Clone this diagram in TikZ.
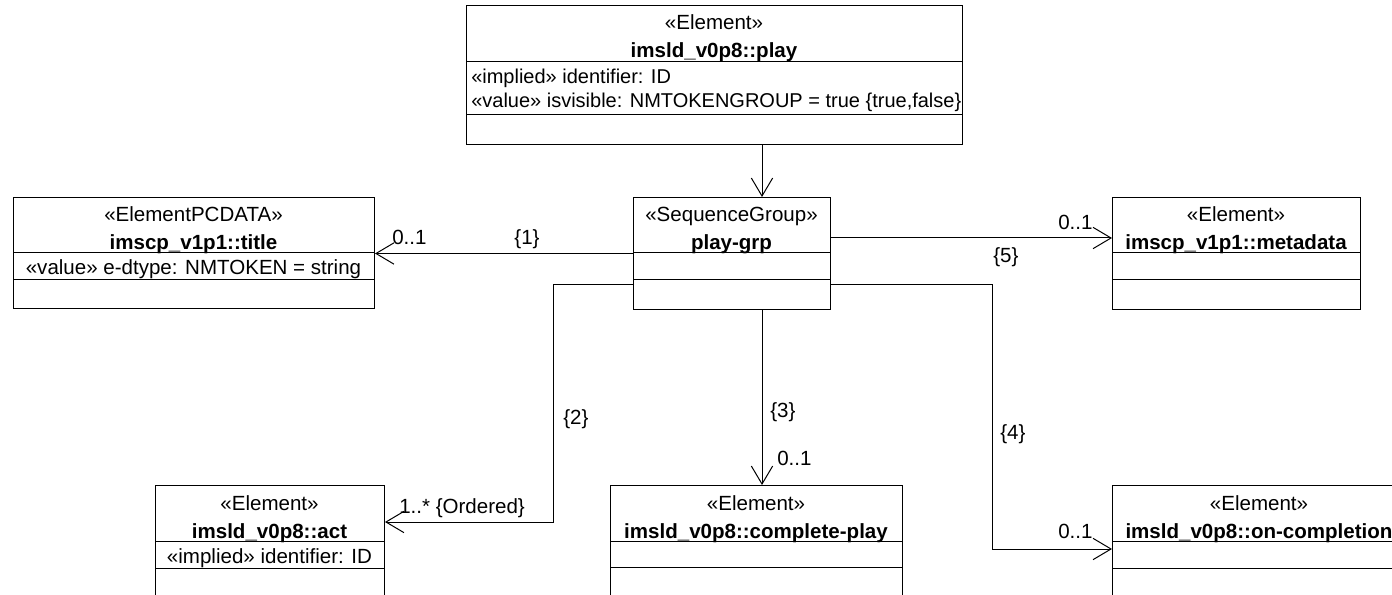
\documentclass[tikz,border=0pt]{standalone}
\usepackage{fontspec}
\setmainfont{Liberation Sans}
\usetikzlibrary{arrows.meta}
\begin{document}
\begin{tikzpicture}[x=0.75pt,y=-0.75pt,
  box/.style={draw=black, line width=0.75pt, rectangle, inner sep=0pt, anchor=north west},
  sep/.style={draw=black, line width=0.75pt},
  txt/.style={inner sep=0pt, anchor=base, font=\fontsize{15.4pt}{18pt}\selectfont},
  btxt/.style={txt, font=\fontsize{15.4pt}{18pt}\selectfont\bfseries},
  ltxt/.style={txt, anchor=base west},
  ptxt/.style={ltxt, font=\fontsize{15pt}{18pt}\selectfont},
  conn/.style={draw=black, line width=0.75pt, -{Straight Barb[length=13.5pt,width=16pt,line width=0.75pt]}},
]
\useasboundingbox (0,0) rectangle (1392,595);
\clip (0,0) rectangle (1392,595);
\fill[white] (0,0) rectangle (1392,595);

% ---------- boxes ----------
\node[box, minimum width=372pt,    minimum height=104.25pt] (play)  at (466,5)   {};
\node[box, minimum width=270.75pt, minimum height=83.25pt]  (title) at (13,197)  {};
\node[box, minimum width=147.75pt, minimum height=84pt]     (grp)   at (633,197) {};
\node[box, minimum width=186pt,    minimum height=84pt]     (meta)  at (1112,197) {};
\node[box, minimum width=171.75pt, minimum height=101.25pt] (act)   at (155,485) {};
\node[box, minimum width=219pt,    minimum height=101.25pt] (comp)  at (610,485) {};
\node[box, minimum width=231pt,    minimum height=101.25pt] (onc)   at (1112,485) {};

% ---------- compartment separators ----------
\draw[sep] (466,62) -- (962,62);   \draw[sep] (466,115) -- (962,115);
\draw[sep] (13,253) -- (374,253);  \draw[sep] (13,280) -- (374,280);
\draw[sep] (633,253) -- (830,253); \draw[sep] (633,280) -- (830,280);
\draw[sep] (1112,253) -- (1360,253); \draw[sep] (1112,280) -- (1360,280);
\draw[sep] (155,541) -- (384,541); \draw[sep] (155,568) -- (384,568);
\draw[sep] (610,541) -- (902,541); \draw[sep] (610,567) -- (902,567);
\draw[sep] (1112,541) -- (1420,541); \draw[sep] (1112,568) -- (1420,568);

% ---------- texts ----------
\node[txt]  (playS) at (714,30) {«Element»};
\node[btxt] (playN) at (714,58) {imsld\_v0p8::play};
\node[ptxt] (playA1) at (471,84) {«implied» identifier: ID};
\node[ptxt] (playA2) at (471,108) {«value» isvisible: NMTOKENGROUP = true \{true,false\}};

\node[txt]  (titleS) at (193.5,222) {«ElementPCDATA»};
\node[btxt] (titleN) at (193.5,250) {imscp\_v1p1::title};
\node[txt]  (titleA) at (193.5,275) {«value» e-dtype: NMTOKEN = string};

\node[txt]  (grpS) at (731.5,222) {«SequenceGroup»};
\node[btxt] (grpN) at (731.5,250) {play-grp};

\node[txt]  (metaS) at (1236,222) {«Element»};
\node[btxt] (metaN) at (1236,250) {imscp\_v1p1::metadata};

\node[txt]  (actS) at (269.5,510) {«Element»};
\node[btxt] (actN) at (269.5,538) {imsld\_v0p8::act};
\node[txt]  (actA) at (269.5,563) {«implied» identifier: ID};

\node[txt]  (compS) at (756,510) {«Element»};
\node[btxt] (compN) at (756,538) {imsld\_v0p8::complete-play};

\node[txt]  (oncS) at (1259,510) {«Element»};
\node[btxt] (oncN) at (1259,538) {imsld\_v0p8::on-completion};

% ---------- connectors ----------
\coordinate (vx) at (762,0);
\coordinate (ym) at (0,238);
\coordinate (ya) at (0,285);
\coordinate (bendA) at (553,522);
\coordinate (bendB) at (992,549);

\draw[conn] (vx |- play.south) -- (vx |- grp.north);
\draw[conn] (grp.west) -- (grp.west -| title.east);
\draw[conn] (ym -| grp.east) -- (ym -| meta.west);
\draw[conn] (ya -| grp.west) -| (bendA) -- (bendA -| act.east);
\draw[conn] (vx |- grp.south) -- (vx |- comp.north);
\draw[conn] (ya -| grp.east) -| (bendB) -- (bendB -| onc.west);

% ---------- connector labels ----------
\node[ltxt] (l1m) at (392,245) {0..1};
\node[txt]  (l1)  at (527,245) {\{1\}};
\node[ltxt] (l5m) at (1058,230) {0..1};
\node[ltxt] (l5)  at (993,263) {\{5\}};
\node[ltxt] (l2)  at (563,424) {\{2\}};
\node[ltxt] (l2m) at (399,513) {1..* \{Ordered\}};
\node[ltxt] (l3)  at (770,417) {\{3\}};
\node[ltxt] (l3m) at (777,465) {0..1};
\node[ltxt] (l4)  at (1000,439) {\{4\}};
\node[ltxt] (l4m) at (1058,538) {0..1};
\end{tikzpicture}
\end{document}
